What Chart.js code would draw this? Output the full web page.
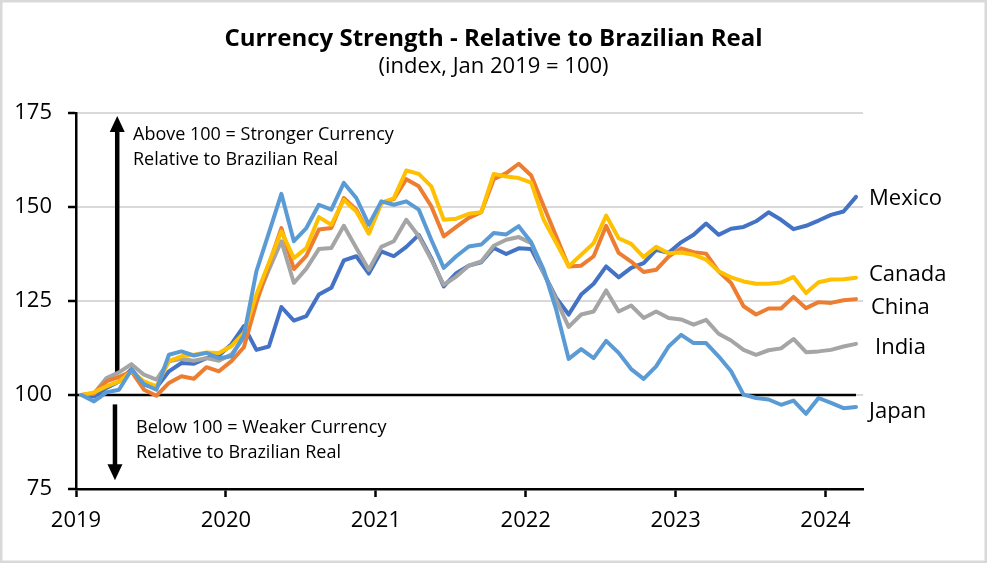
<!DOCTYPE html>
<html>
<head>
<meta charset="utf-8">
<title>Currency Strength - Relative to Brazilian Real</title>
<script src="https://cdn.jsdelivr.net/npm/chart.js@4.4.1/dist/chart.umd.min.js"></script>
<style>
    html, body { margin: 0; padding: 0; background: #fff; }
    #wrap { width: 987px; height: 563px; }
</style>
</head>
<body>
<div id="wrap"><canvas id="fxChart" width="987" height="563"></canvas></div>
<script>
/* Index values, Jan 2019 = 100, monthly from Jan 2019 to Mar 2024 */
const startYear = 2019;
const yearTicks = [2019, 2020, 2021, 2022, 2023, 2024];
const valueTicks = [75, 100, 125, 150, 175];
const baseIndex = 100;

const mexico = [100, 99.6, 101.9, 103.6, 106.9, 102.7, 102.0, 106.3, 108.5, 108.3, 109.8, 110.5,
    113.5, 118.3, 112.0, 112.9, 123.4, 119.8, 121.0, 126.7, 128.5, 135.8, 136.9, 132.3,
    138.2, 136.9, 139.4, 142.6, 136.4, 128.9, 132.4, 134.4, 135.3, 139.1, 137.5, 139.0,
    138.8, 132.4, 125.8, 121.4, 126.7, 129.6, 134.2, 131.3, 133.8, 135.1, 138.6, 137.8,
    140.6, 142.6, 145.6, 142.6, 144.2, 144.7, 146.2, 148.6, 146.6, 144.1, 145.0, 146.4,
    147.9, 148.8, 152.7];
const canada = [100, 100.7, 102.3, 103.6, 106.3, 103.6, 102.3, 109.0, 110.3, 110.7, 111.3, 111.2,
    113.0, 116.5, 126.7, 135.1, 143.5, 136.4, 139.1, 147.3, 145.3, 151.9, 148.8, 142.9,
    151.1, 152.3, 159.7, 158.8, 155.5, 146.6, 146.9, 148.2, 148.6, 158.8, 158.1, 157.7,
    156.5, 146.6, 140.5, 134.2, 137.3, 140.4, 147.7, 141.7, 140.2, 136.7, 139.4, 137.7,
    137.9, 137.3, 136.0, 132.9, 131.3, 130.2, 129.6, 129.6, 129.9, 131.4, 127.1, 130.0,
    130.7, 130.8, 131.2];
const china = [100, 100.4, 103.6, 104.8, 106.3, 101.4, 99.8, 103.2, 105.0, 104.3, 107.4, 106.3,
    109.0, 112.7, 124.5, 134.7, 144.4, 133.5, 137.0, 144.0, 144.4, 152.4, 149.3, 143.1,
    151.1, 152.1, 157.4, 155.5, 150.2, 142.2, 144.7, 147.1, 148.6, 157.4, 159.0, 161.5,
    158.4, 150.2, 142.2, 134.2, 134.4, 136.9, 145.0, 137.8, 135.5, 132.7, 133.3, 136.8,
    139.0, 138.0, 137.6, 132.9, 129.8, 123.6, 121.4, 123.0, 123.0, 126.1, 123.1, 124.7,
    124.5, 125.2, 125.5];
const india = [100, 100.4, 104.5, 106.0, 108.2, 105.4, 104.1, 109.0, 109.6, 109.1, 109.8, 109.1,
    110.8, 115.2, 125.3, 133.3, 140.9, 129.8, 133.6, 138.8, 139.1, 145.0, 139.1, 133.3,
    139.4, 140.9, 146.6, 142.2, 136.0, 129.3, 131.5, 134.4, 135.5, 139.7, 141.3, 142.0,
    140.4, 132.4, 125.3, 118.1, 121.4, 122.2, 127.8, 122.2, 123.8, 120.5, 122.2, 120.5,
    120.1, 118.7, 120.0, 116.3, 114.5, 112.0, 110.7, 111.9, 112.4, 114.9, 111.4, 111.6,
    112.0, 112.9, 113.6];
const japan = [100, 98.3, 100.7, 101.4, 106.7, 102.9, 101.4, 110.7, 111.6, 110.5, 111.2, 109.8,
    110.3, 115.8, 132.9, 143.1, 153.5, 140.9, 144.4, 150.6, 149.3, 156.4, 152.4, 145.3,
    151.5, 150.6, 151.5, 149.3, 141.3, 133.8, 136.9, 139.5, 140.0, 143.1, 142.7, 144.9,
    140.6, 133.3, 122.7, 109.6, 112.2, 109.8, 114.4, 111.2, 106.9, 104.3, 107.6, 112.9,
    116.0, 113.8, 113.8, 110.3, 106.3, 100.1, 99.2, 98.8, 97.4, 98.5, 95.0, 99.2,
    97.9, 96.5, 96.8];

const seriesNames = ["Mexico", "Canada", "China", "India", "Japan"];
const seriesValues = [mexico, canada, china, india, japan];

/* styles */
const seriesColors = ["#4472C4", "#FFC000", "#ED7D31", "#A5A5A5", "#5B9BD5"];
const drawOrder = [4, 1, 2, 3, 0];
const labelShift = [[6, 8], [6, 3], [8, 15], [12, 10], [6, 11]];
const fontName = "'Open Sans', 'Noto Sans', sans-serif";

/* month position inside the year (data points sit a little after the 1st) */
const monthX = i => startYear + (i + 0.44) / 12;
const months = mexico.map((v, i) => monthX(i));

const toPoints = values => values.map((v, i) => ({ x: months[i], y: v }));

const decorations = {
    id: "decorations",
    beforeDraw(chart) {
        const ctx = chart.ctx;
        ctx.save();
        ctx.fillStyle = "#fff";
        ctx.fillRect(0, 0, chart.width, chart.height);
        ctx.restore();
    },
    beforeDatasetsDraw(chart) {
        const ctx = chart.ctx;
        const xs = chart.scales.x, ys = chart.scales.y;
        const arrow = (xv, fromV, toV) => {
            const x = xs.getPixelForValue(xv);
            const y0 = ys.getPixelForValue(fromV);
            const y1 = ys.getPixelForValue(toV);
            const dir = y1 < y0 ? 1 : -1;
            ctx.save();
            ctx.strokeStyle = "#000";
            ctx.fillStyle = "#000";
            ctx.lineWidth = 4.5;
            ctx.beginPath();
            ctx.moveTo(x, y0);
            ctx.lineTo(x, y1 + dir * 14);
            ctx.stroke();
            ctx.beginPath();
            ctx.moveTo(x, y1);
            ctx.lineTo(x - 7.5, y1 + dir * 16);
            ctx.lineTo(x + 7.5, y1 + dir * 16);
            ctx.closePath();
            ctx.fill();
            ctx.restore();
        };
        arrow(2019.275, 106.1, 174.2);
        arrow(2019.26, 97.5, 77.3);
    },
    afterDraw(chart) {
        const ctx = chart.ctx;
        const area = chart.chartArea;
        ctx.save();
        ctx.fillStyle = "#000";
        ctx.textBaseline = "alphabetic";

        ctx.textAlign = "center";
        ctx.font = "bold 24px " + fontName;
        ctx.fillText("Currency Strength - Relative to Brazilian Real", chart.width / 2, 46);
        ctx.font = "22px " + fontName;
        ctx.fillText("(index, Jan 2019 = 100)", chart.width / 2, 73);

        ctx.textAlign = "left";
        ctx.font = "18px " + fontName;
        ctx.fillText("Above 100 = Stronger Currency", 133, 140);
        ctx.fillText("Relative to Brazilian Real", 133, 165);
        ctx.fillText("Below 100 = Weaker Currency", 136, 433);
        ctx.fillText("Relative to Brazilian Real", 136, 458);

        ctx.font = "22px " + fontName;
        seriesNames.forEach((name, k) => {
            const meta = chart.getDatasetMeta(k);
            const last = meta.data[meta.data.length - 1];
            ctx.fillText(name, area.right + labelShift[k][0], last.y + labelShift[k][1]);
        });

        ctx.strokeStyle = "#D9D9D9";
        ctx.lineWidth = 2.5;
        ctx.strokeRect(1.25, 1.25, chart.width - 2.5, chart.height - 2.5);
        ctx.restore();
    }
};

function drawChart() {
    const datasets = seriesNames.map((name, k) => ({
        label: name,
        data: toPoints(seriesValues[k]),
        borderColor: seriesColors[k],
        backgroundColor: seriesColors[k],
        borderWidth: 4,
        borderJoinStyle: "round",
        borderCapStyle: "round",
        pointRadius: 0,
        tension: 0,
        order: drawOrder[k]
    }));
    datasets.push({
        label: "Base",
        data: [{ x: startYear, y: baseIndex }, { x: months[months.length - 1], y: baseIndex }],
        borderColor: "#000",
        borderWidth: 2.5,
        pointRadius: 0,
        order: 10
    });

    new Chart(document.getElementById("fxChart").getContext("2d"), {
        type: "line",
        data: { datasets: datasets },
        options: {
            responsive: false,
            animation: false,
            events: [],
            layout: { padding: { top: 113, right: 124, bottom: 0, left: 0 } },
            plugins: {
                legend: { display: false },
                tooltip: { enabled: false },
                title: { display: false }
            },
            scales: {
                x: {
                    type: "linear",
                    min: startYear,
                    max: 2024.25,
                    afterBuildTicks: s => { s.ticks = yearTicks.map(v => ({ value: v })); },
                    afterFit: s => { s.height = 74; },
                    border: { color: "#000", width: 2.5 },
                    grid: { drawOnChartArea: false, tickColor: "#000", tickWidth: 2.5, tickLength: 8 },
                    ticks: {
                        callback: v => String(v),
                        color: "#000",
                        font: { family: fontName, size: 22 },
                        padding: 11,
                        maxRotation: 0,
                        autoSkip: false
                    }
                },
                y: {
                    min: 75,
                    max: 175,
                    afterBuildTicks: s => { s.ticks = valueTicks.map(v => ({ value: v })); },
                    afterFit: s => { s.width = 76; },
                    border: { color: "#000", width: 2.5 },
                    grid: { color: "#D9D9D9", lineWidth: 2, tickColor: "#000", tickWidth: 2.5, tickLength: 8 },
                    ticks: {
                        color: "#000",
                        font: { family: fontName, size: 22 },
                        padding: 16
                    }
                }
            }
        },
        plugins: [decorations]
    });
}

Promise.all([
    document.fonts.load("22px 'Open Sans'"),
    document.fonts.load("bold 24px 'Open Sans'")
]).then(drawChart, drawChart);
</script>
</body>
</html>
